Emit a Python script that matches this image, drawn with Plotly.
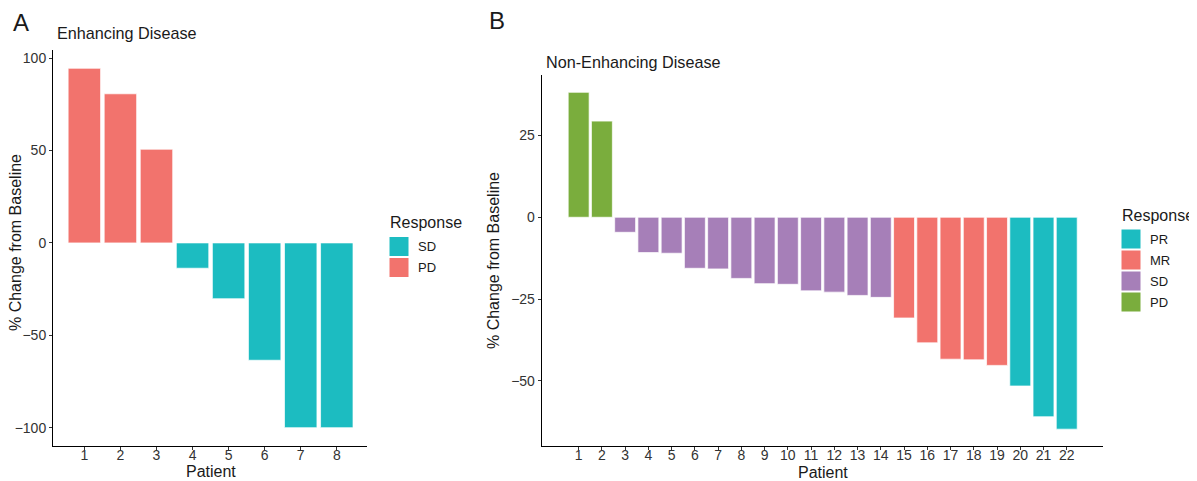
import plotly.graph_objects as go

# page body has an 8px margin, so the figure is sized to fit the window
W, H = 1197, 481
OFF = 8
FW, FH = W - OFF, H - OFF

# ---- data ----
patients_a = [1, 2, 3, 4, 5, 6, 7, 8]
change_a = [94.5, 80.7, 50.7, -13.7, -30.2, -63.5, -100, -100]
response_a = ["PD", "PD", "PD", "SD", "SD", "SD", "SD", "SD"]
legend_a = ["SD", "PD"]

patients_b = list(range(1, 23))
change_b = [38.2, 29.4, -4.6, -10.8, -11.0, -15.6, -15.8, -18.7, -20.3, -20.5,
            -22.5, -22.9, -23.9, -24.5, -30.8, -38.4, -43.4, -43.6, -45.3,
            -51.6, -61.0, -64.8]
response_b = ["PD", "PD"] + ["SD"] * 12 + ["MR"] * 5 + ["PR"] * 3
legend_b = ["PR", "MR", "SD", "PD"]

colors_a = {"SD": "#1CBCC1", "PD": "#F2736D"}
colors_b = {"PR": "#1CBCC1", "MR": "#F2736D", "SD": "#A67FB8", "PD": "#7AAD3D"}

FONT = "Liberation Sans, Arial, Helvetica, sans-serif"
TXT = "#1a1a1a"
TICK = "#333333"

def px(x):
    return (x - OFF) / FW

def py(y):
    return 1 - (y - OFF) / FH

fig = go.Figure()

for cat in legend_a:
    xs = [p for p, r in zip(patients_a, response_a) if r == cat]
    ys = [v for v, r in zip(change_a, response_a) if r == cat]
    fig.add_trace(go.Bar(x=xs, y=ys, width=0.9, name=cat, showlegend=False,
                         marker=dict(color=colors_a[cat],
                                     line=dict(color="rgba(255,255,255,0.7)", width=1)),
                         xaxis="x", yaxis="y"))

for cat in legend_b:
    xs = [p for p, r in zip(patients_b, response_b) if r == cat]
    ys = [v for v, r in zip(change_b, response_b) if r == cat]
    fig.add_trace(go.Bar(x=xs, y=ys, width=0.9, name=cat, showlegend=False,
                         marker=dict(color=colors_b[cat],
                                     line=dict(color="rgba(255,255,255,0.7)", width=1)),
                         xaxis="x2", yaxis="y2"))

axis_common = dict(showline=True, linecolor="black", linewidth=1, ticks="outside",
                   ticklen=3, tickcolor="#333333", showgrid=False, zeroline=False,
                   automargin=False,
                   tickfont=dict(family=FONT, size=14, color=TICK))

fig.update_layout(
    width=FW, height=FH,
    margin=dict(l=0, r=0, t=0, b=0),
    paper_bgcolor="white", plot_bgcolor="white",
    barmode="overlay",
    font=dict(family=FONT, color=TXT),
    xaxis=dict(domain=[px(53), px(366.7)], range=[0.13, 8.83],
               tickvals=patients_a, ticktext=[str(p) for p in patients_a],
               ticklabelstandoff=-7, anchor="y", **axis_common),
    yaxis=dict(domain=[py(445.7), py(50)], range=[-109.75, 104.4],
               tickvals=[-100, -50, 0, 50, 100],
               anchor="x", **axis_common),
    xaxis2=dict(domain=[px(541.7), px(1103)], range=[-0.59, 23.56],
                tickvals=patients_b, ticktext=[str(p) for p in patients_b],
                ticklabelstandoff=-7, anchor="y2", **axis_common),
    yaxis2=dict(domain=[py(446), py(75)], range=[-69.95, 43.5],
                tickvals=[-50, -25, 0, 25],
                anchor="x2", **axis_common),
)

ann = []
ann.append(dict(text="A", x=px(11), y=py(22), xanchor="left", yanchor="middle",
                font=dict(size=24, family=FONT, color=TXT)))
ann.append(dict(text="Enhancing Disease", x=px(55), y=py(33), xanchor="left", yanchor="middle",
                font=dict(size=16.2, family=FONT, color=TXT)))
ann.append(dict(text="B", x=px(487), y=py(21), xanchor="left", yanchor="middle",
                font=dict(size=24, family=FONT, color=TXT)))
ann.append(dict(text="Non-Enhancing Disease", x=px(544), y=py(62), xanchor="left", yanchor="middle",
                font=dict(size=16.2, family=FONT, color=TXT)))
# axis titles
ann.append(dict(text="Patient", x=px(211), y=py(471), xanchor="center", yanchor="middle",
                font=dict(size=16, family=FONT, color=TXT)))
ann.append(dict(text="Patient", x=px(823), y=py(472), xanchor="center", yanchor="middle",
                font=dict(size=16, family=FONT, color=TXT)))
ann.append(dict(text="% Change from Baseline", x=px(15), y=py(243), xanchor="center", yanchor="middle",
                textangle=-90, font=dict(size=16, family=FONT, color=TXT)))
ann.append(dict(text="% Change from Baseline", x=px(494), y=py(261), xanchor="center", yanchor="middle",
                textangle=-90, font=dict(size=16, family=FONT, color=TXT)))

shapes = []

def add_legend(x0, title_y, first_y, cats, colors):
    ann.append(dict(text="Response", x=px(x0 - 1), y=py(title_y), xanchor="left", yanchor="middle",
                    font=dict(size=16, family=FONT, color=TXT)))
    for i, c in enumerate(cats):
        top = first_y + i * 21
        shapes.append(dict(type="rect", xref="paper", yref="paper",
                           x0=px(x0), x1=px(x0 + 20), y0=py(top + 20), y1=py(top),
                           fillcolor=colors[c], line=dict(color="white", width=1)))
        ann.append(dict(text=c, x=px(x0 + 27), y=py(top + 10), xanchor="left", yanchor="middle",
                        font=dict(size=13, family=FONT, color=TXT)))

add_legend(389, 222, 236.5, legend_a, colors_a)
add_legend(1121, 215, 229, legend_b, colors_b)

for a in ann:
    a.update(xref="paper", yref="paper", showarrow=False)
fig.update_layout(annotations=ann, shapes=shapes)

fig.write_html("out.html")
